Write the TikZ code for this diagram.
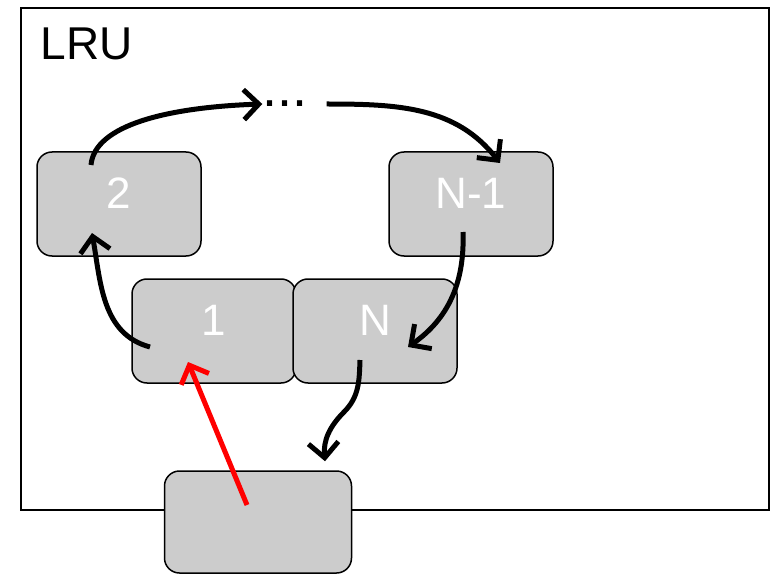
\documentclass[tikz,border=0pt]{standalone}
\usepackage{fontspec}
\setmainfont{Liberation Sans}
\usepackage{tikz}
\usetikzlibrary{shapes.geometric, arrows, arrows.meta}
\usetikzlibrary{positioning}
\definecolor{cellgray}{RGB}{204,204,204}
\tikzstyle{cell} = [rectangle, rounded corners=15pt, minimum width=164pt, minimum height=104pt, text depth=22pt, fill=cellgray, draw=black, line width=1.5pt, text=white, font=\fontsize{44}{48}\selectfont]
\tikzstyle{arrow} = [line width=5pt,->,>={Straight Barb[length=15pt,width=30pt]}]

\begin{document}
\begin{tikzpicture}[x=1pt, y=1pt, node distance=127pt]
    \useasboundingbox (0,0) rectangle (776,574);
    \draw [line width=1.3pt] (21,64) rectangle (769,566);
    \node (lru) [anchor=base west, font=\fontsize{46}{50}\selectfont] at (37,514) {LRU};
    \node (2) [cell] at (119,370) {2};
    \node (1) [cell, below of = 2, xshift=95pt] {1};
    \node (N) [cell, right of = 1, xshift=34pt] {N};
    \node (Nm1) [cell, above of = N, xshift=96pt] {N-1};
    \node (dots) [inner sep=0pt, font=\fontsize{54}{58}\selectfont] at (285,470) {...};
    \node (new) [cell, below of = 1, xshift=44pt, yshift=-64pt, minimum width=187pt, minimum height=102pt] {};
    % the list, oldest to newest
    \draw [arrow] ([shift={(-64,-16)}]1.center) to [out=165, in=-80] ([shift={(-27,-29)}]2.center);
    \draw [arrow] ([shift={(-28,39)}]2.center) to [out=85, in=182, out distance=40pt, in distance=95pt] (dots.west);
    \draw [arrow] ([xshift=19pt]dots.east) to [out=0, in=128] ([shift={(29,41)}]Nm1.center);
    \draw [arrow] ([shift={(-8,-28)}]Nm1.center) to [out=-88, in=35] ([shift={(33,-16)}]N.center);
    % evict and insert
    \draw [arrow] ([shift={(-15,-29)}]N.center) to [out=-92, in=45] ++(-16,-52) to [out=-135, in=95] ([shift={(67,9)}]new.north);
    \draw [arrow, red] ([shift={(-11,17)}]new.center) -- ([shift={(-26,-31)}]1.center);
\end{tikzpicture}
\end{document}
